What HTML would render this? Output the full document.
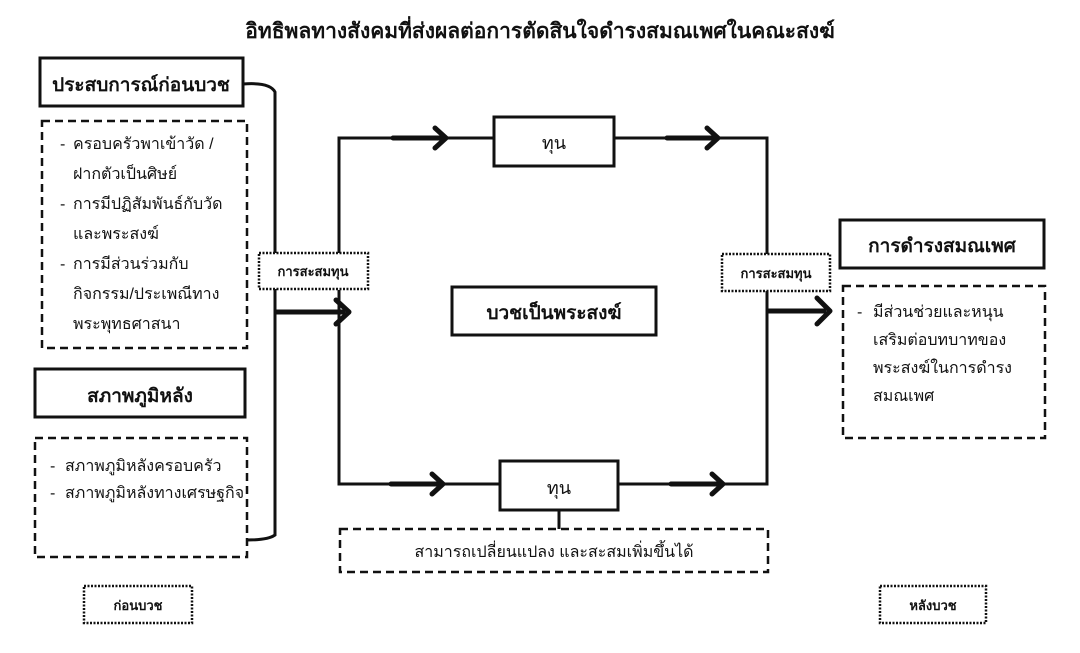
<!DOCTYPE html>
<html><head><meta charset="utf-8"><style>
html,body{margin:0;padding:0;background:#fff;}
svg{display:block;}
text{font-family:"Liberation Sans","Noto Sans CJK SC",sans-serif;fill:#111;}
</style></head><body>
<svg width="1080" height="653" viewBox="0 0 1080 653" xmlns="http://www.w3.org/2000/svg">
<text x="540" y="38" font-size="21" font-weight="bold" text-anchor="middle">อิทธิพลทางสังคมที่ส่งผลต่อการตัดสินใจดำรงสมณเพศในคณะสงฆ์</text>

<rect x="40" y="58" width="203" height="48" fill="none" stroke="#111" stroke-width="3"/>
<text x="141" y="91" font-size="19" font-weight="bold" text-anchor="middle">ประสบการณ์ก่อนบวช</text>
<rect x="42" y="121" width="205" height="227" fill="none" stroke="#111" stroke-width="2.5" stroke-dasharray="8,5"/>
<g font-size="16" fill="#333">
<text x="60" y="149">-</text><text x="73" y="149">ครอบครัวพาเข้าวัด /</text>
<text x="73" y="179">ฝากตัวเป็นศิษย์</text>
<text x="60" y="209">-</text><text x="73" y="209">การมีปฏิสัมพันธ์กับวัด</text>
<text x="73" y="239">และพระสงฆ์</text>
<text x="60" y="269">-</text><text x="73" y="269">การมีส่วนร่วมกับ</text>
<text x="73" y="299">กิจกรรม/ประเพณีทาง</text>
<text x="73" y="329">พระพุทธศาสนา</text>
</g>
<rect x="35" y="369" width="210" height="48" fill="none" stroke="#111" stroke-width="3"/>
<text x="140" y="402" font-size="19" font-weight="bold" text-anchor="middle">สภาพภูมิหลัง</text>
<rect x="35" y="438" width="212" height="119" fill="none" stroke="#111" stroke-width="2.5" stroke-dasharray="8,5"/>
<g font-size="16" fill="#333">
<text x="50" y="471">-</text><text x="65" y="471">สภาพภูมิหลังครอบครัว</text>
<text x="50" y="498">-</text><text x="65" y="498">สภาพภูมิหลังทางเศรษฐกิจ</text>
</g>
<rect x="84" y="586" width="108" height="37" fill="none" stroke="#111" stroke-width="2.5" stroke-dasharray="2,1.5"/>
<text x="138" y="610" font-size="13" font-weight="bold" text-anchor="middle">ก่อนบวช</text>

<path d="M243 84 Q270 82 275 92 L275 535 Q268 540 247 540" fill="none" stroke="#111" stroke-width="3"/>
<line x1="275" y1="312" x2="345" y2="312" stroke="#111" stroke-width="5"/>
<path d="M336 300 L349 312 L336 324" fill="none" stroke="#111" stroke-width="5" stroke-linecap="round" stroke-linejoin="round"/>
<rect x="259" y="253" width="109" height="36" fill="#fff" stroke="#111" stroke-width="2.5" stroke-dasharray="2,1.5"/>
<text x="313" y="276" font-size="13" font-weight="bold" text-anchor="middle">การสะสมทุน</text>

<path d="M339 253 L339 138 L767 138 L767 255" fill="none" stroke="#111" stroke-width="3"/>
<path d="M339 290 L339 484 L767 484 L767 291" fill="none" stroke="#111" stroke-width="3"/>
<rect x="494" y="117" width="120" height="49" fill="#fff" stroke="#111" stroke-width="3"/>
<text x="554" y="149" font-size="18" text-anchor="middle">ทุน</text>
<rect x="500" y="461" width="118" height="49" fill="#fff" stroke="#111" stroke-width="3"/>
<text x="559" y="494" font-size="18" text-anchor="middle">ทุน</text>
<line x1="559" y1="510" x2="559" y2="529" stroke="#111" stroke-width="3"/>
<g stroke="#111" stroke-width="5" fill="none" stroke-linecap="round" stroke-linejoin="round">
<line x1="393" y1="138" x2="444" y2="138"/><path d="M435 128 L446 138 L435 148"/>
<line x1="667" y1="138" x2="716" y2="138"/><path d="M707 128 L718 138 L707 148"/>
<line x1="391" y1="484" x2="441" y2="484"/><path d="M432 474 L443 484 L432 494"/>
<line x1="671" y1="484" x2="721" y2="484"/><path d="M712 474 L723 484 L712 494"/>
</g>
<rect x="452" y="287" width="204" height="48" fill="none" stroke="#111" stroke-width="3"/>
<text x="554" y="319" font-size="19" font-weight="bold" text-anchor="middle">บวชเป็นพระสงฆ์</text>
<rect x="340" y="529" width="428" height="43" fill="none" stroke="#111" stroke-width="2.5" stroke-dasharray="8,5"/>
<text x="554" y="557" font-size="16" fill="#333" text-anchor="middle">สามารถเปลี่ยนแปลง และสะสมเพิ่มขึ้นได้</text>

<line x1="767" y1="311" x2="826" y2="311" stroke="#111" stroke-width="5"/>
<path d="M817 298 L830 311 L817 324" fill="none" stroke="#111" stroke-width="5" stroke-linecap="round" stroke-linejoin="round"/>
<rect x="722" y="254" width="108" height="37" fill="#fff" stroke="#111" stroke-width="2.5" stroke-dasharray="2,1.5"/>
<text x="776" y="278" font-size="13" font-weight="bold" text-anchor="middle">การสะสมทุน</text>
<rect x="840" y="220" width="204" height="48" fill="none" stroke="#111" stroke-width="3"/>
<text x="942" y="252" font-size="19" font-weight="bold" text-anchor="middle">การดำรงสมณเพศ</text>
<rect x="843" y="286" width="202" height="152" fill="none" stroke="#111" stroke-width="2.5" stroke-dasharray="8,5"/>
<g font-size="16" fill="#333">
<text x="857" y="317">-</text><text x="873" y="317">มีส่วนช่วยและหนุน</text>
<text x="873" y="345">เสริมต่อบทบาทของ</text>
<text x="873" y="373">พระสงฆ์ในการดำรง</text>
<text x="873" y="401">สมณเพศ</text>
</g>
<rect x="880" y="586" width="106" height="37" fill="none" stroke="#111" stroke-width="2.5" stroke-dasharray="2,1.5"/>
<text x="933" y="610" font-size="13" font-weight="bold" text-anchor="middle">หลังบวช</text>
</svg>
</body></html>
